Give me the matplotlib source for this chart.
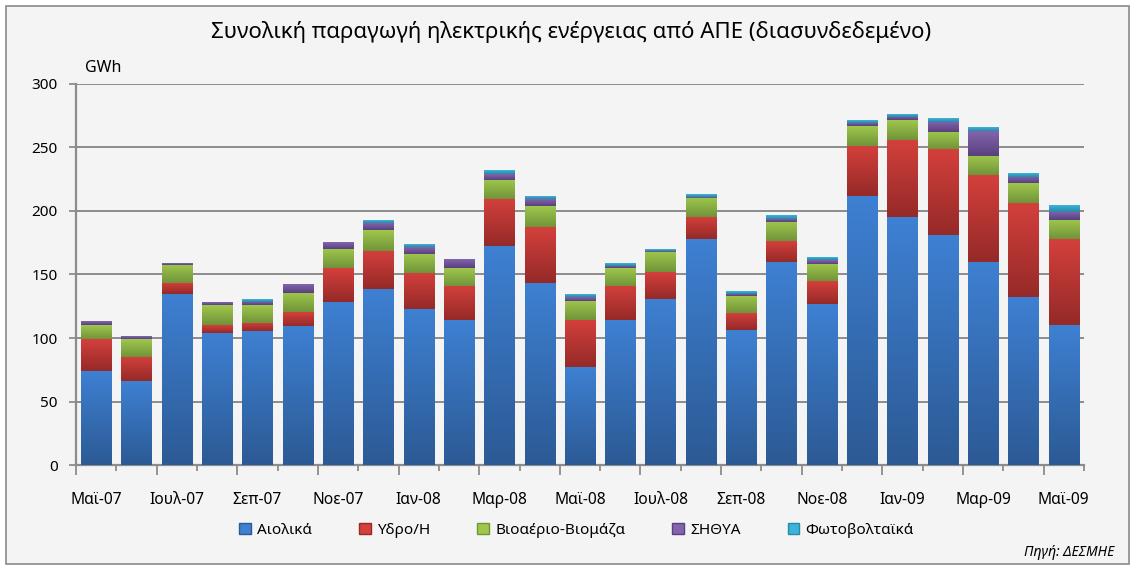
import numpy as np
import matplotlib
matplotlib.use('Agg')
import matplotlib.pyplot as plt
from matplotlib.colors import LinearSegmentedColormap
from matplotlib.patches import Rectangle, Patch

plt.rcParams['font.family'] = ['Noto Sans', 'DejaVu Sans']

#----------------------------- data (GWh) -----------------------------#
months = ['Μαϊ-07', 'Ιουν-07', 'Ιουλ-07', 'Αυγ-07', 'Σεπ-07', 'Οκτ-07', 'Νοε-07', 'Δεκ-07',
          'Ιαν-08', 'Φεβ-08', 'Μαρ-08', 'Απρ-08', 'Μαϊ-08', 'Ιουν-08', 'Ιουλ-08', 'Αυγ-08',
          'Σεπ-08', 'Οκτ-08', 'Νοε-08', 'Δεκ-08', 'Ιαν-09', 'Φεβ-09', 'Μαρ-09', 'Απρ-09', 'Μαϊ-09']

wind = [74, 66, 134.6, 104, 105.5, 109.4, 128.3, 138.5, 122.8, 114, 172.4, 143.3, 77, 114,
        130.7, 178, 106, 159.6, 126.8, 212, 195, 181, 160, 132.3, 110]
hydro = [25, 19, 8.7, 6, 6.3, 11, 26.7, 30, 28.4, 27, 37, 44, 37, 27,
         21, 17.5, 13.5, 16.5, 18, 39.4, 60.6, 67.7, 68.5, 74, 68]
bio = [11, 14, 14.2, 15.7, 14, 15, 15, 16.5, 15, 14, 15, 16.5, 15, 14,
       16, 15, 13.4, 15, 13.4, 15, 15.7, 13.4, 15, 15.7, 15]
chp = [2.4, 1.8, 1.5, 1.6, 2.5, 6.3, 5.5, 5.5, 5.5, 7, 4.7, 5.5, 3, 1.7,
       0.5, 0.5, 1.6, 2.4, 3, 3, 2.4, 7.9, 19, 4.8, 6.3]
pv = [0, 0, 0, 0, 1.6, 0, 0, 1.6, 1.6, 0, 2.4, 1.6, 1.6, 1.6,
      1.2, 2, 1.6, 2.4, 1.6, 1.6, 1.6, 2.4, 2.4, 3.1, 5.5]

series_names = ['Αιολικά', 'Υδρο/Η', 'Βιοαέριο-Βιομάζα', 'ΣΗΘΥΑ', 'Φωτοβολταϊκά']
series = [wind, hydro, bio, chp, pv]
# (top colour, bottom colour) of each segment's gradient
grads = [('#3e80d2', '#2c5a95'), ('#d4403c', '#952a28'), ('#9fc74c', '#71943a'),
         ('#8265ab', '#5a4080'), ('#3cb4da', '#2a88a8')]

#----------------------------- figure -----------------------------#
fig = plt.figure(figsize=(11.35, 5.7), dpi=100, facecolor='white')
fig.patches.append(Rectangle((0.005, 0.01), 0.99, 0.98, transform=fig.transFigure,
                             facecolor='#f4f4f4', edgecolor='#8a8a8a', linewidth=1.2, zorder=-10))

ax = fig.add_axes([0.067, 0.184, 0.888, 0.669])
ax.set_facecolor('#f4f4f4')

x = np.arange(len(months))
bottom = np.zeros(len(months))
for vals, name, (ctop, cbot) in zip(series, series_names, grads):
    bars = ax.bar(x, vals, 0.75, bottom=bottom, color=cbot, label=name, zorder=2)
    cmap = LinearSegmentedColormap.from_list(name, [cbot, ctop])
    for p in bars.patches:
        if p.get_height() <= 0:
            continue
        bx, by, bw, bh = p.get_x(), p.get_y(), p.get_width(), p.get_height()
        ax.imshow(np.linspace(0, 1, 64).reshape(-1, 1)[::-1], extent=(bx, bx + bw, by, by + bh),
                  cmap=cmap, aspect='auto', interpolation='bilinear', zorder=3)
    bottom += np.array(vals)

ax.set_xlim(-0.5, len(months) - 0.5)
ax.set_ylim(0, 300)
ax.set_yticks(np.arange(0, 301, 50))
ax.grid(axis='y', color='#8c8c8c', linewidth=1.4, zorder=0)
ax.set_axisbelow(True)

for s in ['top', 'right']:
    ax.spines[s].set_visible(False)
for s in ['left', 'bottom']:
    ax.spines[s].set_color('#8c8c8c')
    ax.spines[s].set_linewidth(1.6)

ax.tick_params(axis='y', length=5, color='#8c8c8c', width=1.3, labelsize=11, pad=8, labelcolor='black')
ax.set_xticks(x[::2], months[::2])
ax.tick_params(axis='x', length=0, labelsize=11.2, pad=19)

# tick marks between the months
sec = ax.secondary_xaxis('bottom')
sec.set_xticks(np.arange(-0.5, len(months), 2), [''] * len(np.arange(-0.5, len(months), 2)))
sec.set_xticks(np.arange(0.5, len(months), 2), minor=True)
sec.tick_params(axis='x', which='major', length=7, width=1.3, color='#8c8c8c')
sec.tick_params(axis='x', which='minor', length=4, width=1.3, color='#8c8c8c')
sec.spines['bottom'].set_visible(False)

fig.text(0.503, 0.944, 'Συνολική παραγωγή ηλεκτρικής ενέργειας από ΑΠΕ (διασυνδεδεμένο)',
         ha='center', va='center', fontsize=16)
fig.text(0.075, 0.881, 'GWh', ha='left', va='center', fontsize=11.5)
fig.text(0.982, 0.03, 'Πηγή: ΔΕΣΜΗΕ', ha='right', va='center', fontsize=10, style='italic')

handles = [Patch(facecolor=c[0], edgecolor=c[1]) for c in grads]
fig.legend(handles, series_names, loc='center', bbox_to_anchor=(0.508, 0.07), ncol=5,
           frameon=False, fontsize=11, handlelength=0.75, handleheight=0.75,
           handletextpad=0.4, columnspacing=3.1)

fig.savefig('out.png', dpi=100, facecolor=fig.get_facecolor())
